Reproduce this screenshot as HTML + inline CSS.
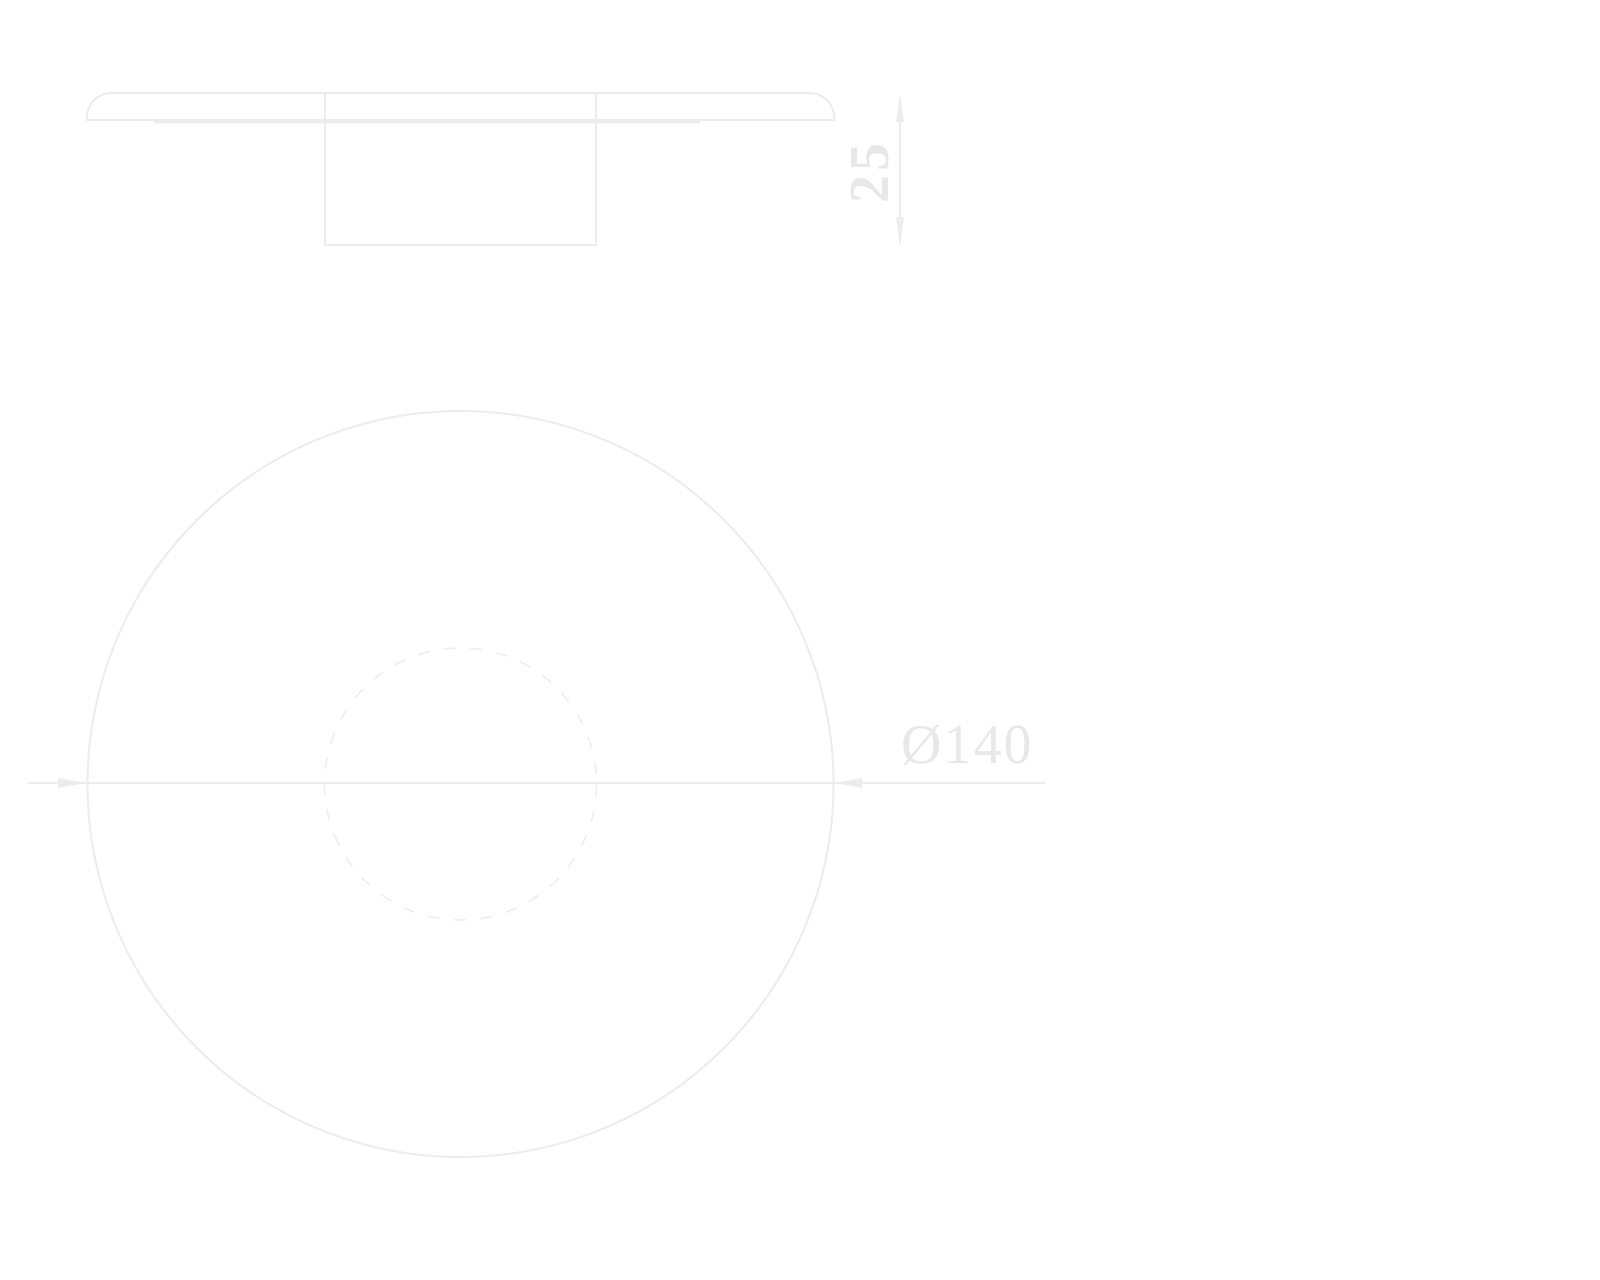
<!DOCTYPE html>
<html><head><style>html,body{margin:0;padding:0;background:#fff;}svg{display:block}</style></head>
<body>
<svg width="1600" height="1280" viewBox="0 0 1600 1280" xmlns="http://www.w3.org/2000/svg">
<g fill="none" stroke="#ececec" stroke-width="2">
<path d="M87,120 L87,114 Q92,93 113,93 L808,93 Q829,93 834,114 L834,120 Z"/>
<line x1="154" y1="122" x2="700" y2="122" stroke-width="3"/>
<path d="M325,93 L325,245 L596,245 L596,93"/>
<line x1="900" y1="97" x2="900" y2="243"/>
<circle cx="460.5" cy="784" r="373"/>
<circle cx="460.5" cy="784" r="136" stroke-dasharray="12,14" stroke-width="1.5"/>
<line x1="28" y1="783" x2="1045" y2="783"/>
</g>
<g fill="#ececec">
<polygon points="900,95 896,122 904,122"/>
<polygon points="900,245 896,217 904,217"/>
<polygon points="87,783 58,778 58,788"/>
<polygon points="834,783 862,778 862,788"/>
</g>
<text x="901" y="763" font-family="Liberation Serif, serif" font-size="56" letter-spacing="2" fill="#e8e8e8">Ø140</text>
<text transform="translate(888,171) rotate(-90)" text-anchor="middle" font-family="Liberation Serif, serif" font-size="56" font-weight="bold" letter-spacing="4" fill="#e8e8e8">25</text>
</svg>
</body></html>
